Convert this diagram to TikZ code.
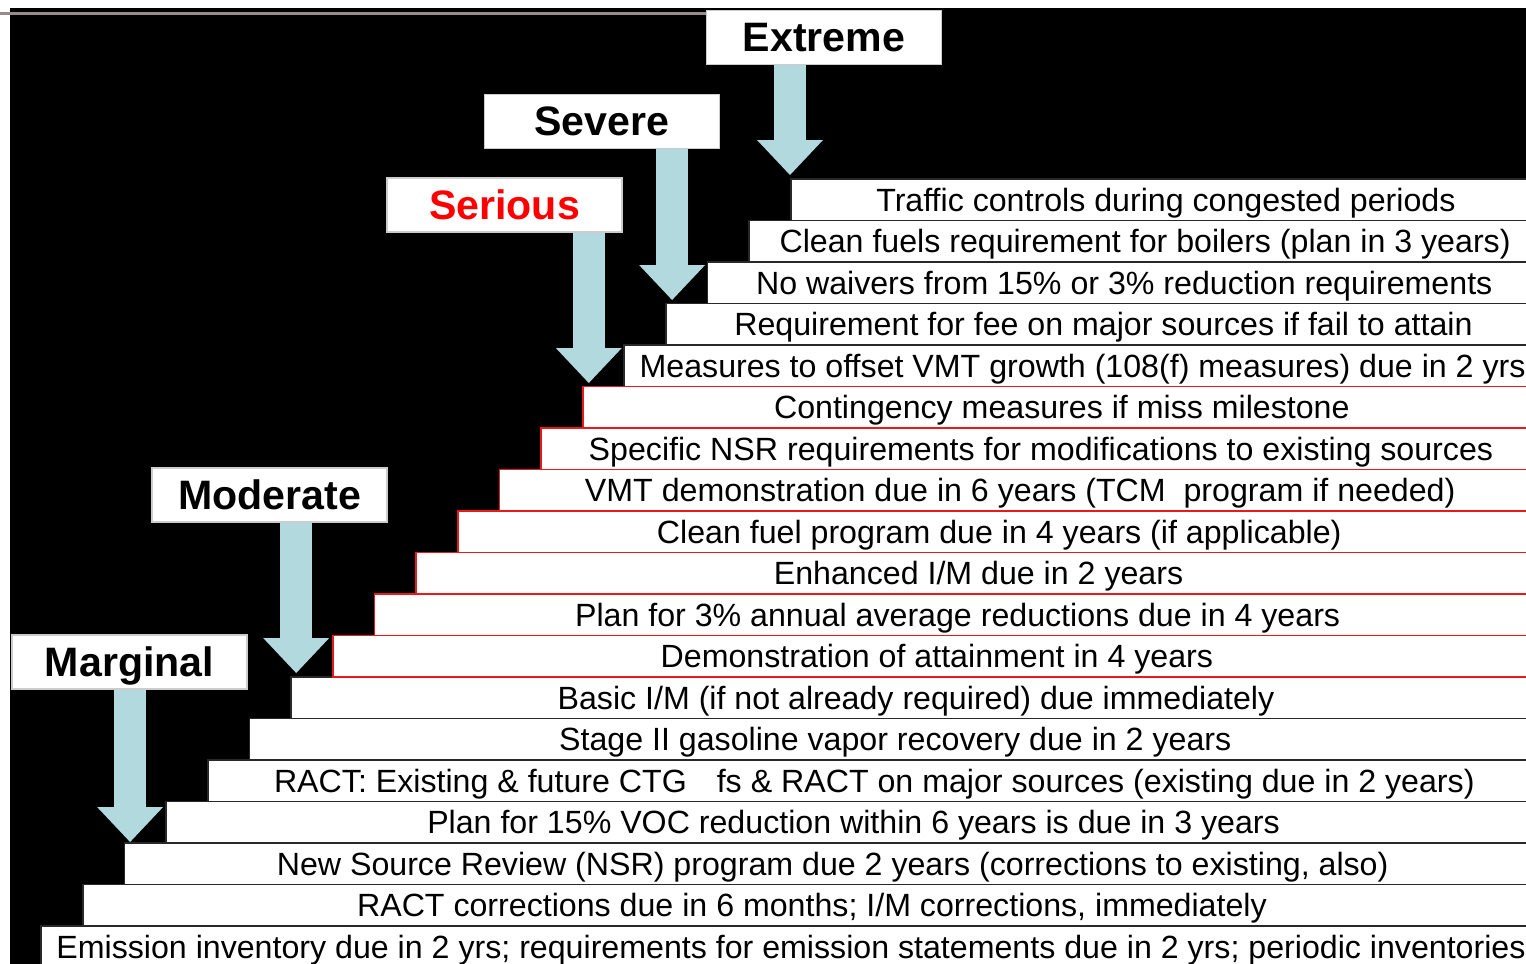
\documentclass[tikz,border=0pt]{standalone}
\usepackage{fontspec}
\setmainfont{Liberation Sans}
\usetikzlibrary{calc,arrows.meta}
\definecolor{bleuclair}{RGB}{178,217,222}
\definecolor{bord}{RGB}{40,40,40}
\definecolor{rouge}{RGB}{235,25,25}
\definecolor{titre}{RGB}{150,140,140}

\begin{document}
\begin{tikzpicture}[
	ligne/.style={draw=bord, line width=0.5pt, fill=white, anchor=north west, minimum height=0.415cm, inner sep=0pt, text height=0.23cm, text depth=0pt, font=\fontsize{9.15}{11}\selectfont},
	ligneR/.style={ligne, draw=rouge},
	niveau/.style={draw=gray!40, line width=0.4pt, fill=white, minimum width=2.35cm, minimum height=0.54cm, inner sep=0pt, text height=0.29cm, text depth=0pt, font=\fontsize{11.7}{14}\selectfont\bfseries},
	fleche/.style={draw=bleuclair, line width=0.32cm, -{Triangle[width=0.66cm 0, length=0.35cm 0, line width=0pt, fill=bleuclair]}}
	]
	
	% Cadre, fond noir et trait du titre
	\useasboundingbox (0,0) rectangle (15.26,-9.64);
	\clip (0,0) rectangle (15.26,-9.64);
	\fill[black] (0.10,-0.08) rectangle (15.26,-9.64);
	\draw[titre, line width=0.035cm] (0,-0.135) -- (7.60,-0.135);
	
	% Marches (bord noir)
	\node[ligne, minimum width=7.500cm] (r1) at (7.900,-1.780) {Traffic controls during congested periods};
	\node[ligne, minimum width=7.917cm] (r2) at (7.484,-2.195) {Clean fuels requirement for boilers (plan in 3 years)};
	\node[ligne, minimum width=8.333cm] (r3) at (7.067,-2.610) {No waivers from 15\% or 3\% reduction requirements};
	\node[ligne, minimum width=8.750cm] (r4) at (6.651,-3.025) {Requirement for fee on major sources if fail to attain};
	\node[ligne, minimum width=9.166cm] (r5) at (6.234,-3.440) {Measures to offset VMT growth (108(f) measures) due in 2 yrs};
	\node[ligne, minimum width=12.498cm] (r13) at (2.902,-6.760) {Basic I/M (if not already required) due immediately};
	\node[ligne, minimum width=12.915cm] (r14) at (2.486,-7.175) {Stage II gasoline vapor recovery due in 2 years};
	\node[ligne, minimum width=13.331cm] (r15) at (2.069,-7.590) {RACT: Existing \& future CTG\hspace{0.3cm}fs \& RACT on major sources (existing due in 2 years)};
	\node[ligne, minimum width=13.748cm] (r16) at (1.653,-8.005) {Plan for 15\% VOC reduction within 6 years is due in 3 years};
	\node[ligne, minimum width=14.164cm] (r17) at (1.236,-8.420) {New Source Review (NSR) program due 2 years (corrections to existing, also)};
	\node[ligne, minimum width=14.581cm] (r18) at (0.820,-8.835) {RACT corrections due in 6 months; I/M corrections, immediately};
	\node[ligne, minimum width=14.997cm] (r19) at (0.403,-9.250) {Emission inventory due in 2 yrs; requirements for emission statements due in 2 yrs; periodic inventories};
	
	% Marches (bord rouge)
	\node[ligneR, minimum width=9.583cm] (r6) at (5.818,-3.855) {Contingency measures if miss milestone};
	\node[ligneR, minimum width=9.999cm] (r7) at (5.401,-4.270) {Specific NSR requirements for modifications to existing sources};
	\node[ligneR, minimum width=10.416cm] (r8) at (4.985,-4.685) {VMT demonstration due in 6 years (TCM\ \ program if needed)};
	\node[ligneR, minimum width=10.832cm] (r9) at (4.568,-5.100) {Clean fuel program due in 4 years (if applicable)};
	\node[ligneR, minimum width=11.249cm] (r10) at (4.152,-5.515) {Enhanced I/M due in 2 years};
	\node[ligneR, minimum width=11.665cm] (r11) at (3.735,-5.930) {Plan for 3\% annual average reductions due in 4 years};
	\node[ligneR, minimum width=12.082cm] (r12) at (3.319,-6.345) {Demonstration of attainment in 4 years};
	
	% Niveaux
	\node[niveau] (extreme) at (8.240,-0.375) {Extreme};
	\node[niveau] (severe) at (6.020,-1.215) {Severe};
	\node[niveau, text=red] (serious) at (5.045,-2.050) {Serious};
	\node[niveau] (moderate) at (2.695,-4.950) {Moderate};
	\node[niveau] (marginal) at (1.295,-6.620) {Marginal};
	
	% Flèches des niveaux vers les marches
	\coordinate (t1) at ($(r1.north west)+(0,0.03)$);
	\coordinate (t4) at ($(r4.north west)+(0.07,0.025)$);
	\coordinate (t6) at ($(r6.north west)+(0.07,0.025)$);
	\coordinate (t13) at ($(r13.north west)+(0.06,0.03)$);
	\coordinate (t17) at ($(r17.north west)+(0.065,0)$);
	\draw[fleche] (extreme.south -| t1) -- (t1);
	\draw[fleche] (severe.south -| t4) -- (t4);
	\draw[fleche] (serious.south -| t6) -- (t6);
	\draw[fleche] (moderate.south -| t13) -- (t13);
	\draw[fleche] (marginal.south -| t17) -- (t17);
	
\end{tikzpicture}
\end{document}
